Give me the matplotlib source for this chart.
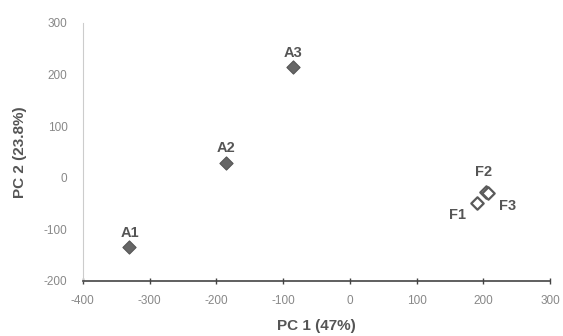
import matplotlib
matplotlib.use("Agg")
import matplotlib.pyplot as plt

# PCA scores
names = ["A1", "A2", "A3", "F1", "F2", "F3"]
pc1 = [-330, -186, -85, 191, 204, 207]
pc2 = [-135, 28, 215, -49, -27, -30]
filled = [True, True, True, False, False, False]

# label offsets in points (dx, dy, ha)
label_pos = {
    "A1": (0, 10, "center"),
    "A2": (0, 11, "center"),
    "A3": (0, 10, "center"),
    "F1": (-8, -9, "right"),
    "F2": (-2, 14, "center"),
    "F3": (8, -9, "left"),
}

plt.rcParams["font.family"] = ["Liberation Sans", "DejaVu Sans"]
plt.rcParams["axes.unicode_minus"] = False

fig = plt.figure(figsize=(5.63, 3.36), dpi=100)
ax = fig.add_axes([0.147, 0.164, 0.830, 0.768])

for n, x, y, f in zip(names, pc1, pc2, filled):
    if f:
        ax.scatter(x, y, marker="D", s=45, color="#666666",
                   edgecolor="#555555", linewidth=0.8, zorder=3)
    else:
        ax.scatter(x, y, marker="D", s=40, color="white",
                   edgecolor="#5a5a5a", linewidth=1.6, zorder=3)
    dx, dy, ha = label_pos[n]
    ax.annotate(n, (x, y), xytext=(dx, dy), textcoords="offset points",
                ha=ha, va="center", fontsize=10.5, fontweight="bold",
                color="#555555")

ax.set_xlim(-400, 300)
ax.set_ylim(-200, 300)
ax.set_xticks(range(-400, 301, 100))
ax.set_yticks(range(-200, 301, 100))

ax.spines["top"].set_visible(False)
ax.spines["right"].set_visible(False)
ax.spines["left"].set_color("#cccccc")
ax.spines["left"].set_linewidth(0.8)
ax.spines["bottom"].set_color("#444444")
ax.spines["bottom"].set_linewidth(1.2)

ax.tick_params(axis="y", length=0, pad=11, labelsize=8.5, labelcolor="#888888")
ax.tick_params(axis="x", direction="inout", length=5, width=1, color="#444444",
               pad=8, labelsize=8.5, labelcolor="#888888")

ax.set_xlabel("PC 1 (47%)", fontsize=11, fontweight="bold", color="#555555", labelpad=8)
ax.set_ylabel("PC 2 (23.8%)", fontsize=11, fontweight="bold", color="#555555", labelpad=12)

fig.savefig("out.png", dpi=100)
